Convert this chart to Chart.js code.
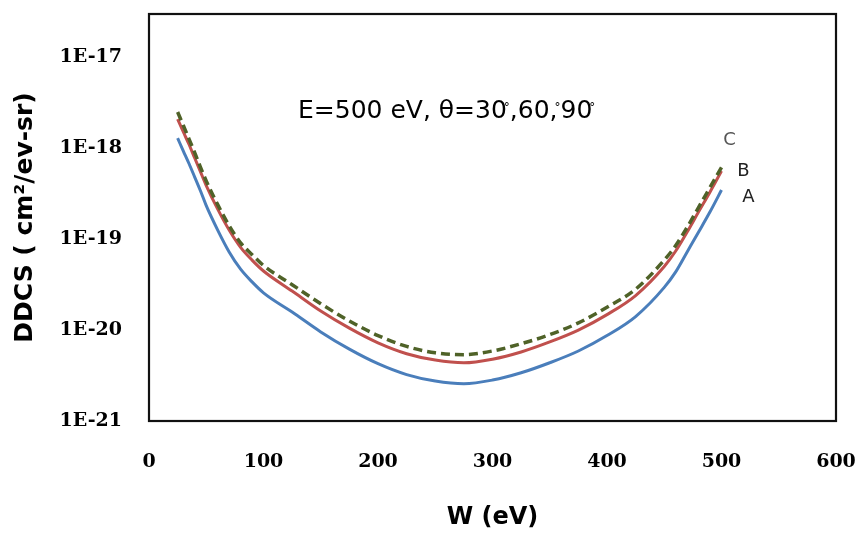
<!DOCTYPE html>
<html><head><meta charset="utf-8">
<script src="https://cdn.jsdelivr.net/npm/chart.js@4.4.0/dist/chart.umd.min.js"></script>
<style>html,body{margin:0;padding:0;background:#fff;}</style>
</head><body>
<canvas id="c" width="856" height="535"></canvas>
<script>
// ---- data ----
const energies = [25,30,35,40,45,50,60,70,80,90,100,125,150,175,200,225,250,275,300,325,350,375,400,425,450,460,470,480,490,500];
const seriesA = [1.29e-18,9.33e-19,6.76e-19,4.79e-19,3.39e-19,2.34e-19,1.26e-19,7.24e-20,4.68e-20,3.39e-20,2.57e-20,1.58e-20,9.55e-21,6.17e-21,4.27e-21,3.24e-21,2.75e-21,2.57e-21,2.82e-21,3.39e-21,4.37e-21,5.89e-21,8.71e-21,1.41e-20,2.95e-20,4.37e-20,7.24e-20,1.20e-19,2.00e-19,3.47e-19];
const seriesB = [2.09e-18,1.51e-18,1.10e-18,7.76e-19,5.50e-19,3.89e-19,2.14e-19,1.26e-19,8.13e-20,5.89e-20,4.47e-20,2.69e-20,1.62e-20,1.05e-20,7.24e-21,5.50e-21,4.68e-21,4.37e-21,4.79e-21,5.75e-21,7.41e-21,1.00e-20,1.48e-20,2.40e-20,5.01e-20,7.41e-20,1.20e-19,2.00e-19,3.31e-19,5.62e-19];
const seriesC = [2.51e-18,1.78e-18,1.26e-18,8.91e-19,6.17e-19,4.37e-19,2.40e-19,1.41e-19,9.12e-20,6.76e-20,5.13e-20,3.16e-20,1.95e-20,1.26e-20,8.71e-21,6.61e-21,5.62e-21,5.37e-21,5.89e-21,7.08e-21,8.91e-21,1.20e-20,1.78e-20,2.82e-20,5.89e-20,8.51e-20,1.35e-19,2.24e-19,3.72e-19,6.17e-19];
const seriesNames = ['A','B','C'];
const xTickValues = [0,100,200,300,400,500,600];
const yTickValues = [1e-21,1e-20,1e-19,1e-18,1e-17];
const annotationParts = ['E=500 eV, \u03b8=30', ',60,', '90'];
const xTitle = 'W (eV)';
const yTitle = 'DDCS ( cm\u00b2/ev-sr)';

function pts(vals){ return energies.map((w,i)=>({x:w,y:vals[i]})); }
function noPad(s){ s.paddingTop = 0; s.paddingBottom = 0; s.paddingLeft = 0; s.paddingRight = 0; }

const decorPlugin = {
  id:'decor',
  beforeDatasetsDraw(chart){
    const {ctx, chartArea:a} = chart;
    ctx.save();
    ctx.strokeStyle = '#111';
    ctx.lineWidth = 2.2;
    ctx.strokeRect(a.left, a.top, a.right-a.left, a.bottom-a.top);
    ctx.restore();
  },
  afterDraw(chart){
    const ctx = chart.ctx;
    const xs = chart.scales.x, ys = chart.scales.y;
    ctx.save();
    ctx.fillStyle = '#000';
    ctx.textBaseline = 'alphabetic';
    ctx.textAlign = 'left';
    const big = '25px "DejaVu Sans"', small = '12px "DejaVu Sans"';
    let x = 298; const base = 118;
    annotationParts.forEach((p)=>{
      ctx.font = big; ctx.fillText(p, x, base); x += ctx.measureText(p).width;
      ctx.font = small; ctx.fillText('\u00b0', x-3, base-7); x += 3;
    });
    const last = energies.length-1;
    const ends = [seriesA[last], seriesB[last], seriesC[last]];
    const offs = [[27,7],[22,0],[8,-27]];
    const cols = ['#222','#222','#555'];
    ctx.font = '18px "DejaVu Sans"';
    ctx.textAlign = 'center'; ctx.textBaseline = 'middle';
    seriesNames.forEach((n,i)=>{
      const px = xs.getPixelForValue(energies[last]) + offs[i][0];
      const py = ys.getPixelForValue(ends[i]) + offs[i][1];
      ctx.fillStyle = cols[i];
      ctx.fillText(n, px, py);
    });
    ctx.restore();
  }
};

new Chart(document.getElementById('c'), {
  type:'line',
  data:{ datasets:[
    {label:'C', data:pts(seriesC), borderColor:'#4f6228', borderWidth:3.5, borderDash:[9,5], pointRadius:0, cubicInterpolationMode:'monotone', fill:false},
    {label:'B', data:pts(seriesB), borderColor:'#c0504d', borderWidth:3, pointRadius:0, cubicInterpolationMode:'monotone', fill:false},
    {label:'A', data:pts(seriesA), borderColor:'#4a7ebb', borderWidth:3, pointRadius:0, cubicInterpolationMode:'monotone', fill:false}
  ]},
  options:{
    responsive:false, animation:false, devicePixelRatio:1,
    layout:{padding:{top:14,right:20,left:0,bottom:0}},
    plugins:{legend:{display:false}, tooltip:{enabled:false}},
    scales:{
      x:{
        type:'linear', min:0, max:600,
        afterBuildTicks:(s)=>{ s.ticks = xTickValues.map(v=>({value:v})); },
        afterFit:(s)=>{ s.height = 114; noPad(s); },
        grid:{display:false, drawTicks:false}, border:{display:false},
        ticks:{padding:30, color:'#000', maxRotation:0, autoSkip:false, font:{family:'DejaVu Serif', size:19, weight:'bold'}},
        title:{display:true, text:xTitle, color:'#000', font:{family:'DejaVu Sans', size:24, weight:'bold'}, padding:{top:0,bottom:3}}
      },
      y:{
        type:'logarithmic', min:1e-21, max:3e-17,
        afterBuildTicks:(s)=>{ s.ticks = yTickValues.map(v=>({value:v})); },
        afterFit:(s)=>{ s.width = 149; noPad(s); },
        grid:{display:false, drawTicks:false}, border:{display:false},
        ticks:{padding:27, color:'#000', autoSkip:false, font:{family:'DejaVu Serif', size:19, weight:'bold'},
          callback:(v)=>'1E' + Math.round(Math.log10(v))},
        title:{display:true, text:yTitle, color:'#000', font:{family:'DejaVu Sans', size:25, weight:'bold'}, padding:{top:10,bottom:0}}
      }
    }
  },
  plugins:[decorPlugin]
});
</script>
</body></html>
